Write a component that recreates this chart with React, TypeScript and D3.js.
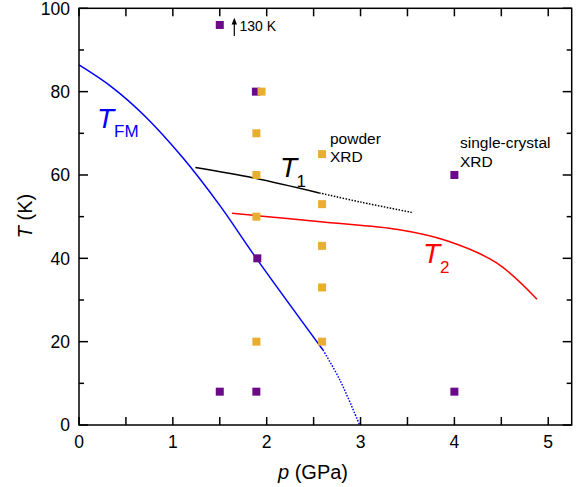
import React from "react";
import * as d3 from "d3";

// ---- data ----
const tfmSolidP = [0, 0.35, 0.69, 1.1, 1.5, 1.89, 2.6];
const tfmSolidT = [86.4, 81.1, 74.4, 64.3, 52.7, 40.0, 18.0];
const tfmDotP = [2.6, 2.78, 2.99];
const tfmDotT = [18.0, 10.8, 0];

const t1SolidP = [1.24, 1.86, 2.56];
const t1SolidT = [61.8, 59.3, 55.7];
const t1DotP = [2.56, 3.0, 3.55];
const t1DotT = [55.7, 53.5, 51.0];

const t2P = [1.63, 2.6, 3.4, 3.92, 4.45, 4.88];
const t2T = [50.8, 48.7, 46.9, 44.2, 38.9, 30.2];

const singleP = [1.5, 1.885, 1.9, 1.5, 1.89, 4.0, 4.0];
const singleT = [96, 80, 40, 8, 8, 60, 8];

const powderP = [1.945, 1.89, 1.89, 1.89, 1.89, 2.59, 2.59, 2.59, 2.59, 2.59];
const powderT = [80, 70, 60, 50, 20, 65, 53, 43, 33, 20];

const xTickLabels = [0, 1, 2, 3, 4, 5];
const yTickLabels = [0, 20, 40, 60, 80, 100];

const W = 585;
const H = 487;
const FONT = "'Liberation Sans', Arial, Helvetica, sans-serif";
const PURPLE = "#6b0a88";
const ORANGE = "#e8ae30";

export default function App() {
  const x = d3.scaleLinear().domain([0, 5.25]).range([79, 571.7]);
  const y = d3.scaleLinear().domain([0, 100]).range([425, 8.3]);
  const [x0, x1] = x.range();
  const [y0, y1] = y.range();

  const mk = (curve: d3.CurveFactory) =>
    d3
      .line<[number, number]>()
      .x((d) => x(d[0]))
      .y((d) => y(d[1]))
      .curve(curve);
  const cr = mk(d3.curveCatmullRom.alpha(0.5));
  const zip = (a: number[], b: number[]) => a.map((v, i) => [v, b[i]] as [number, number]);

  const xMinor = d3.range(0, 5.01, 0.5);
  const yAll = d3.range(0, 100.01, 10);
  const sq = 8;

  return (
    <svg width={W} height={H} style={{ position: "absolute", left: 0, top: 0 }} fontFamily={FONT}>
      <rect width={W} height={H} fill="#fff" />
      {/* curves */}
      <path d={cr(zip(tfmSolidP, tfmSolidT)) || ""} fill="none" stroke="#0000ff" strokeWidth={1.5} />
      <path d={cr(zip(tfmDotP, tfmDotT)) || ""} fill="none" stroke="#0000ff" strokeWidth={1.5} strokeDasharray="1.5 1.5" />
      <path d={cr(zip(t1SolidP, t1SolidT)) || ""} fill="none" stroke="#000" strokeWidth={1.5} />
      <path d={cr(zip(t1DotP, t1DotT)) || ""} fill="none" stroke="#000" strokeWidth={1.5} strokeDasharray="1.5 1.5" />
      <path d={cr(zip(t2P, t2T)) || ""} fill="none" stroke="#ff0000" strokeWidth={1.5} />

      {/* markers */}
      {singleP.map((p, i) => (
        <rect key={"s" + i} x={x(p) - sq / 2} y={y(singleT[i]) - sq / 2} width={sq} height={sq} fill={PURPLE} />
      ))}
      {powderP.map((p, i) => (
        <rect key={"p" + i} x={x(p) - sq / 2} y={y(powderT[i]) - sq / 2} width={sq} height={sq} fill={ORANGE} />
      ))}

      {/* frame */}
      <rect x={x0} y={y1} width={x1 - x0} height={y0 - y1} fill="none" stroke="#000" strokeWidth={1.5} />
      {xMinor.map((v) => (
        <g key={"xt" + v}>
          <line x1={x(v)} x2={x(v)} y1={y0} y2={y0 - 8} stroke="#000" strokeWidth={1.5} />
          <line x1={x(v)} x2={x(v)} y1={y1} y2={y1 + 8} stroke="#000" strokeWidth={1.5} />
        </g>
      ))}
      {yAll.map((v) => {
        const len = v % 20 === 0 ? 9 : 5;
        return (
          <g key={"yt" + v}>
            <line x1={x0} x2={x0 + len} y1={y(v)} y2={y(v)} stroke="#000" strokeWidth={1.5} />
            <line x1={x1} x2={x1 - len} y1={y(v)} y2={y(v)} stroke="#000" strokeWidth={1.5} />
          </g>
        );
      })}
      {xTickLabels.map((v) => (
        <text key={"xl" + v} x={x(v)} y={448} textAnchor="middle" fontSize={17.5} fill="#000">
          {v}
        </text>
      ))}
      {yTickLabels.map((v) => (
        <text key={"yl" + v} x={70} y={y(v) + 6.2} textAnchor="end" fontSize={17.5} fill="#000">
          {v}
        </text>
      ))}

      {/* axis titles */}
      <text x={313} y={479} textAnchor="middle" fontSize={20} fill="#000">
        <tspan fontStyle="italic">p</tspan> (GPa)
      </text>
      <text transform="translate(32,216) rotate(-90)" textAnchor="middle" fontSize={20} fill="#000">
        <tspan fontStyle="italic">T</tspan> (K)
      </text>

      {/* curve labels */}
      <text x={97} y={128} fontSize={28} fontStyle="italic" fill="#0000ff">T</text>
      <text x={114} y={137} fontSize={17} fill="#0000ff">FM</text>
      <text x={280} y={176.7} fontSize={28} fontStyle="italic" fill="#000">T</text>
      <text x={296.5} y={186.7} fontSize={17} fill="#000">1</text>
      <text x={423} y={263} fontSize={28} fontStyle="italic" fill="#ff0000">T</text>
      <text x={440} y={273.3} fontSize={17} fill="#ff0000">2</text>

      {/* annotations */}
      <text x={330} y={143.5} fontSize={15.5} fill="#000">powder</text>
      <text x={330} y={162.3} fontSize={15.5} fill="#000">XRD</text>
      <text x={460} y={147.5} fontSize={15.5} fill="#000">single-crystal</text>
      <text x={460} y={166.7} fontSize={15.5} fill="#000">XRD</text>

      <line x1={234.3} x2={234.3} y1={36} y2={22} stroke="#000" strokeWidth={1.2} />
      <path d="M231.6,24.5 L234.3,17.8 L237,24.5 Z" fill="#000" />
      <text x={239.5} y={30.7} fontSize={14} fill="#000">130 K</text>
    </svg>
  );
}
